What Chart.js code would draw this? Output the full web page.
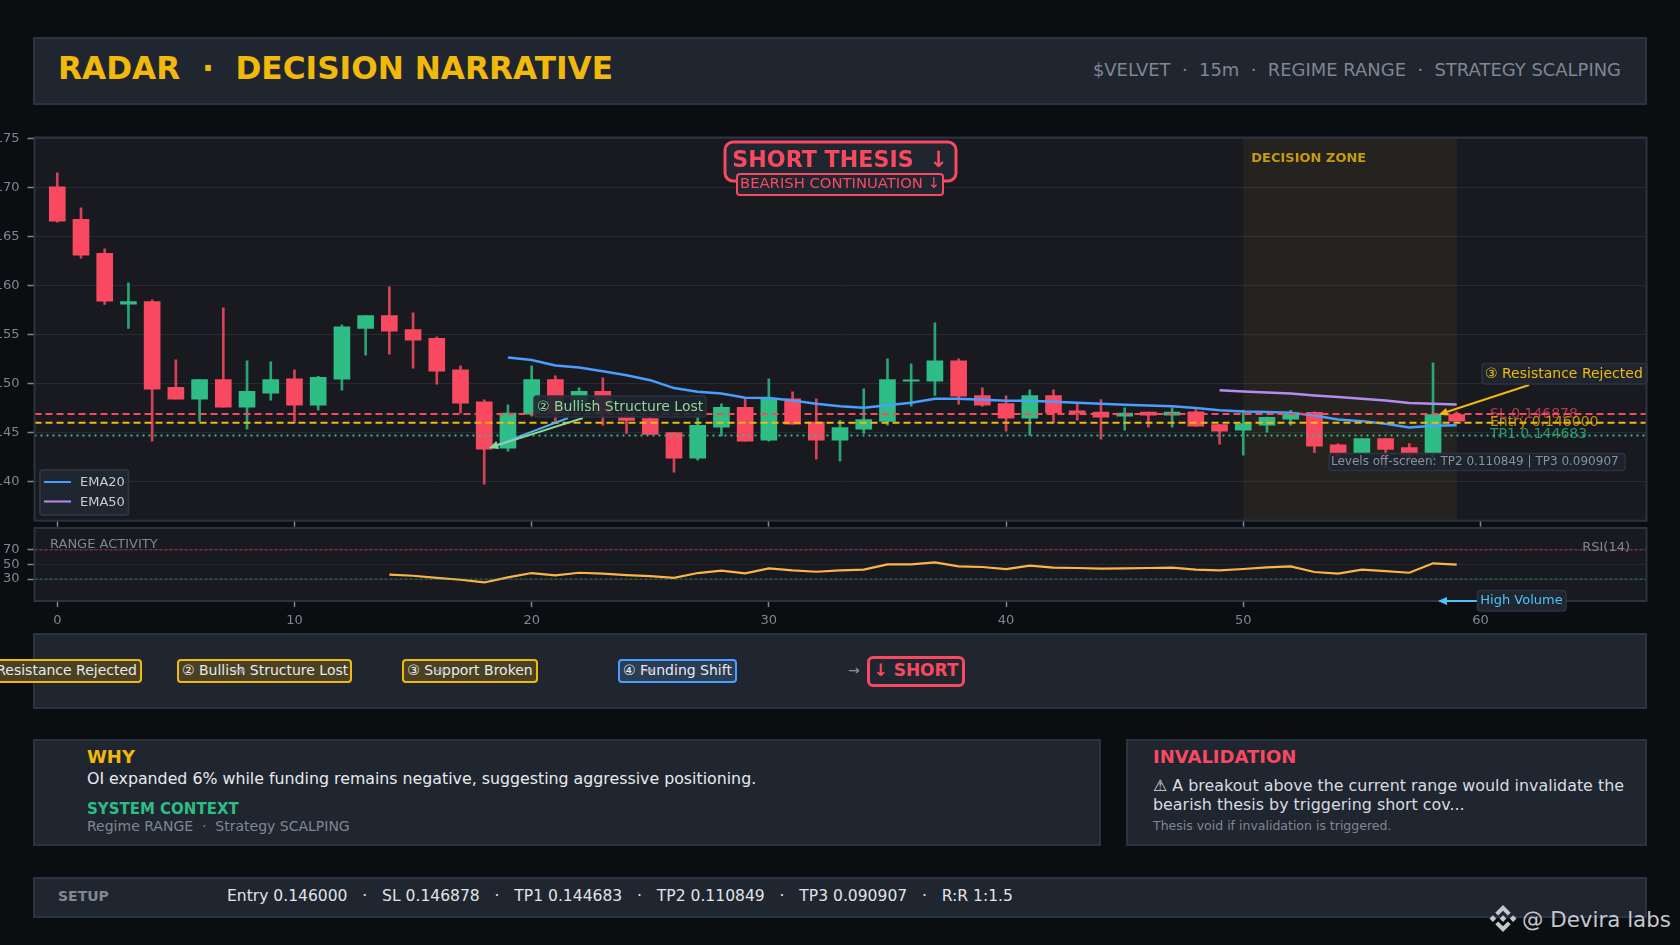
<!DOCTYPE html>
<html>
<head>
<meta charset="utf-8">
<title>Radar decision narrative</title>
<script src="https://cdn.jsdelivr.net/npm/chart.js@4/dist/chart.umd.js"></script>
<style>
  html, body { margin: 0; width: 1680px; height: 945px; overflow: hidden; background: #0b0e11; font-family: 'DejaVu Sans', sans-serif; }
  canvas { position: absolute; left: -60px; }
  .panel { position: absolute; box-sizing: border-box; background: #1f2630; border: 2px solid #2b3240; }
  .t { position: absolute; transform: translateY(-50%); white-space: nowrap; }
  .chip { position: absolute; box-sizing: border-box; top: 659px; height: 24px; line-height: 19px; border: 2px solid #f0b90b; border-radius: 4px; background: #4a4123; color: #e8eaed; font-size: 14px; padding: 0 3px; white-space: nowrap; text-align: center; }
  .chip.blue { border-color: #4a9eff; background: #2b3c55; }
  .arrow { position: absolute; color: #8a919c; font-size: 14px; transform: translateY(-50%); top: 670px; }
</style>
</head>
<body>
<div class="panel" style="left:33px;top:37px;width:1614px;height:68px"></div>
<div class="t" style="left:58px;top:68px;font-size:31.2px;font-weight:bold;color:#f0b90b;white-space:pre">RADAR  ·  DECISION NARRATIVE</div>
<div class="t" style="right:59px;top:68.5px;font-size:17.95px;color:#7f8793;white-space:pre">$VELVET  ·  15m  ·  REGIME RANGE  ·  STRATEGY SCALPING</div>

<canvas id="priceChart" width="1740" height="420" style="top:120px"></canvas>
<canvas id="rsiChart" width="1740" height="125" style="top:505px"></canvas>

<div class="panel" style="left:33px;top:633px;width:1614px;height:76px"></div>
<div class="chip" style="right:1538px">① Resistance Rejected</div>
<div class="chip" style="left:177px;width:175px">② Bullish Structure Lost</div>
<div class="chip" style="left:402px;width:136px">③ Support Broken</div>
<div class="chip blue" style="left:618px;width:119px">④ Funding Shift</div>
<div class="arrow" style="left:233px">→</div>
<div class="arrow" style="left:434px">→</div>
<div class="arrow" style="left:642px">→</div>
<div class="arrow" style="left:848px">→</div>
<div style="position:absolute;box-sizing:border-box;left:867px;top:656px;width:98px;height:31px;line-height:23px;border:3px solid #f84960;border-radius:6px;color:#f84960;font-size:17px;font-weight:bold;text-align:center">↓ SHORT</div>

<div class="panel" style="left:33px;top:739px;width:1068px;height:107px"></div>
<div class="t" style="left:87px;top:756px;font-size:18px;font-weight:bold;color:#f0b90b">WHY</div>
<div class="t" style="left:87px;top:778px;font-size:15.8px;color:#e8eaed">OI expanded 6% while funding remains negative, suggesting aggressive positioning.</div>
<div class="t" style="left:87px;top:809px;font-size:15px;font-weight:bold;color:#2ebd85">SYSTEM CONTEXT</div>
<div class="t" style="left:87px;top:826px;font-size:14px;color:#7f8793;white-space:pre">Regime RANGE  ·  Strategy SCALPING</div>

<div class="panel" style="left:1126px;top:739px;width:521px;height:107px"></div>
<div class="t" style="left:1153px;top:756px;font-size:18px;font-weight:bold;color:#f84960">INVALIDATION</div>
<div class="t" style="left:1153px;top:784.5px;font-size:15.9px;color:#d8dbe0">⚠ A breakout above the current range would invalidate the</div>
<div class="t" style="left:1153px;top:804px;font-size:15.9px;color:#d8dbe0">bearish thesis by triggering short cov...</div>
<div class="t" style="left:1153px;top:825px;font-size:12.5px;color:#7f8793">Thesis void if invalidation is triggered.</div>

<div class="panel" style="left:33px;top:877px;width:1614px;height:41px"></div>
<div class="t" style="left:58px;top:896px;font-size:14px;font-weight:bold;color:#7f8793">SETUP</div>
<div class="t" style="left:227px;top:896px;font-size:15.55px;color:#e0e3e8;white-space:pre">Entry 0.146000   ·   SL 0.146878   ·   TP1 0.144683   ·   TP2 0.110849   ·   TP3 0.090907   ·   R:R 1:1.5</div>

<svg style="position:absolute;left:1489px;top:905px" width="28" height="27" viewBox="0 0 28 28" fill="#c4c8ce">
  <path d="M14 0l8 8-3 3-5-5-5 5-3-3z M14 28l-8-8 3-3 5 5 5-5 3 3z M3.5 10.5l3.5 3.5-3.5 3.5-3.5-3.5z M24.5 10.5l3.5 3.5-3.5 3.5-3.5-3.5z M14 10.5l3.5 3.5-3.5 3.5-3.5-3.5z"/>
</svg>
<div class="t" style="left:1522px;top:919px;font-size:21.4px;color:#c4c8ce">@ Devira labs</div>

<script>
// candles
const candleOpen = [0.17007, 0.16674, 0.16327, 0.15810, 0.15837, 0.14960, 0.14841, 0.15041, 0.14759, 0.14902,
  0.15048, 0.14779, 0.15045, 0.15562, 0.15694, 0.15551, 0.15460, 0.15140, 0.14813, 0.14341,
  0.14688, 0.15041, 0.14769, 0.14919, 0.14657, 0.14643, 0.14500, 0.14239, 0.14555, 0.14756,
  0.14422, 0.14844, 0.14606, 0.14422, 0.14534, 0.14613, 0.15024, 0.15024, 0.15232, 0.14878,
  0.14796, 0.14647, 0.14878, 0.14722, 0.14708, 0.14667, 0.14708, 0.14677, 0.14711, 0.14582,
  0.14524, 0.14575, 0.14636, 0.14705, 0.14375, 0.14293, 0.14439, 0.14347, 0.14293, 0.14684];
const candleClose = [0.16657, 0.16310, 0.15840, 0.15837, 0.14943, 0.14841, 0.15041, 0.14759, 0.14919, 0.15041,
  0.14779, 0.15062, 0.15579, 0.15694, 0.15534, 0.15443, 0.15126, 0.14800, 0.14330, 0.14698,
  0.15041, 0.14701, 0.14919, 0.14701, 0.14623, 0.14480, 0.14239, 0.14572, 0.14756, 0.14412,
  0.14847, 0.14585, 0.14422, 0.14551, 0.14633, 0.15041, 0.15038, 0.15232, 0.14871, 0.14779,
  0.14647, 0.14878, 0.14701, 0.14701, 0.14657, 0.14698, 0.14677, 0.14708, 0.14565, 0.14514,
  0.14592, 0.14654, 0.14694, 0.14361, 0.14293, 0.14439, 0.14327, 0.14276, 0.14684, 0.14616];
const candleHigh = [0.17150, 0.16793, 0.16374, 0.16028, 0.15854, 0.15242, 0.15041, 0.15772, 0.15232, 0.15221,
  0.15140, 0.15072, 0.15599, 0.15694, 0.15987, 0.15721, 0.15477, 0.15181, 0.14834, 0.14783,
  0.15181, 0.15079, 0.14956, 0.15058, 0.14701, 0.14650, 0.14500, 0.14660, 0.14793, 0.14847,
  0.15048, 0.14915, 0.14844, 0.14623, 0.14946, 0.15252, 0.15201, 0.15619, 0.15252, 0.14956,
  0.14875, 0.14936, 0.14936, 0.14803, 0.14837, 0.14752, 0.14708, 0.14752, 0.14735, 0.14582,
  0.14728, 0.14657, 0.14725, 0.14711, 0.14385, 0.14439, 0.14439, 0.14388, 0.15211, 0.14711];
const candleLow = [0.16647, 0.16279, 0.15806, 0.15562, 0.14412, 0.14841, 0.14613, 0.14759, 0.14535, 0.14830,
  0.14596, 0.14728, 0.14932, 0.15289, 0.15300, 0.15157, 0.14994, 0.14701, 0.13973, 0.14310,
  0.14667, 0.14616, 0.14752, 0.14575, 0.14490, 0.14480, 0.14096, 0.14218, 0.14463, 0.14412,
  0.14412, 0.14585, 0.14228, 0.14208, 0.14490, 0.14575, 0.14769, 0.14878, 0.14790, 0.14769,
  0.14514, 0.14470, 0.14596, 0.14626, 0.14432, 0.14524, 0.14555, 0.14555, 0.14565, 0.14381,
  0.14269, 0.14504, 0.14575, 0.14293, 0.14259, 0.14293, 0.14140, 0.14208, 0.14225, 0.14616];

const ema20Start = 19;
const ema20 = [0.15266, 0.15239, 0.15184, 0.15164, 0.15126, 0.15085, 0.15034, 0.14953, 0.14915, 0.14898,
  0.14854, 0.14851, 0.14827, 0.14793, 0.14769, 0.14752, 0.14779, 0.14803, 0.14844, 0.14844,
  0.14834, 0.14824, 0.14824, 0.14813, 0.14803, 0.14793, 0.14783, 0.14776, 0.14769, 0.14749,
  0.14728, 0.14715, 0.14708, 0.14701, 0.14674, 0.14633, 0.14616, 0.14589, 0.14551, 0.14568, 0.14575];
const ema50Start = 49;
const ema50 = [0.14932, 0.14919, 0.14909, 0.14898, 0.14878, 0.14861, 0.14844, 0.14827, 0.14800, 0.14793, 0.14786];

const rsiStart = 14;
const rsi = [36.0, 34.6, 31.8, 29.1, 25.4, 32.3, 38.3, 35.1, 38.7, 37.4, 35.5, 34.1, 31.8, 38.3, 41.5, 37.8,
  44.7, 42.0, 40.1, 42.0, 42.9, 50.2, 50.2, 53.0, 47.5, 46.6, 43.8, 48.4, 45.6, 45.2, 44.3, 44.7,
  45.2, 45.6, 42.9, 42.0, 43.8, 46.1, 47.5, 39.7, 37.4, 42.9, 41.0, 38.7, 51.6, 49.8];

const levelSL = 0.146878;
const levelEntry = 0.146;
const levelTP1 = 0.144683;

const xTicks = [0, 10, 20, 30, 40, 50, 60];
const priceTicks = [0.14, 0.145, 0.15, 0.155, 0.16, 0.165, 0.17, 0.175];
const rsiTicks = [30, 50, 70];

const RED = '#f84960', GREEN = '#2ebd85', YELLOW = '#f0b90b', BLUE = '#4a9eff', PURPLE = '#b48cf0';
const GRAY = '#7f8793', PANEL = '#1f2630', EDGE = '#2b3240', FONT = "'DejaVu Sans', sans-serif";
const xMin = -0.96, xMax = 67;

const isUp = i => candleClose[i] >= candleOpen[i];
const series = (values, start) => values.map((y, i) => ({ x: i + start, y }));
const level = y => [{ x: xMin, y }, { x: xMax, y }];

function box(ctx, x, y, w, h, r, fill, stroke, lw) {
  ctx.beginPath();
  ctx.roundRect(x, y, w, h, r);
  if (fill) { ctx.fillStyle = fill; ctx.fill(); }
  if (stroke) { ctx.strokeStyle = stroke; ctx.lineWidth = lw; ctx.stroke(); }
}

function label(ctx, text, x, y, color, font, align) {
  ctx.font = font + ' ' + FONT;
  ctx.fillStyle = color;
  ctx.textAlign = align || 'left';
  ctx.textBaseline = 'middle';
  ctx.fillText(text, x, y);
}

function arrow(ctx, x0, y0, x1, y1, color, lw) {
  const a = Math.atan2(y1 - y0, x1 - x0);
  ctx.strokeStyle = color;
  ctx.fillStyle = color;
  ctx.lineWidth = lw;
  ctx.beginPath();
  ctx.moveTo(x0, y0);
  ctx.lineTo(x1 - 6 * Math.cos(a), y1 - 6 * Math.sin(a));
  ctx.stroke();
  ctx.beginPath();
  ctx.moveTo(x1, y1);
  ctx.lineTo(x1 - 10 * Math.cos(a - 0.4), y1 - 10 * Math.sin(a - 0.4));
  ctx.lineTo(x1 - 10 * Math.cos(a + 0.4), y1 - 10 * Math.sin(a + 0.4));
  ctx.fill();
}

// axes background, frame and the shaded zone sit under the marks
const backdrop = {
  id: 'backdrop',
  beforeDraw(chart) {
    const { ctx, chartArea: a } = chart;
    ctx.save();
    ctx.fillStyle = '#181a20';
    ctx.fillRect(a.left, a.top, a.width, a.height);
    ctx.restore();
  },
  afterDraw(chart) {
    const { ctx, chartArea: a } = chart;
    ctx.save();
    ctx.strokeStyle = EDGE;
    ctx.lineWidth = 2;
    ctx.strokeRect(a.left, a.top, a.width, a.height);
    ctx.restore();
  }
};

const pricePlugin = {
  id: 'priceNotes',
  beforeDatasetsDraw(chart) {
    const { ctx, chartArea: a, scales: { x, y } } = chart;
    ctx.save();
    ctx.fillStyle = 'rgba(240,185,11,0.06)';
    ctx.fillRect(x.getPixelForValue(50), a.top, x.getPixelForValue(59) - x.getPixelForValue(50), a.height);
    label(ctx, 'DECISION ZONE', x.getPixelForValue(50) + 8, 38.5, 'rgba(240,185,11,0.8)', 'bold 13px');
    const lx = 1550;
    label(ctx, 'SL 0.146878', lx, y.getPixelForValue(levelSL), 'rgba(248,73,96,0.7)', '14px');
    label(ctx, 'Entry 0.146000', lx, y.getPixelForValue(levelEntry), 'rgba(240,185,11,0.75)', '14px');
    label(ctx, 'TP1 0.144683', lx, y.getPixelForValue(levelTP1) - 1, 'rgba(46,189,133,0.75)', '14px');
    ctx.restore();
  },
  afterDatasetsDraw(chart) {
    const { ctx, scales: { x, y } } = chart;
    ctx.save();

    // thesis badges
    box(ctx, 785, 22, 231, 39, 8, PANEL, RED, 3);
    label(ctx, 'SHORT THESIS  ↓', 900, 41.5, RED, 'bold 22.2px', 'center');
    box(ctx, 797, 54, 206, 21, 3, PANEL, RED, 2);
    label(ctx, 'BEARISH CONTINUATION ↓', 900, 64, RED, '14.8px', 'center');

    // arrows point at candles through the scales
    const tipX = x.getPixelForValue(18.2), tipY = y.getPixelForValue(0.14342);
    arrow(ctx, x.getPixelForValue(21.53), y.getPixelForValue(0.14648), tipX, tipY, '#4fb4f0', 2);
    arrow(ctx, x.getPixelForValue(22.16), y.getPixelForValue(0.14648), tipX, tipY, '#8fd694', 2);
    box(ctx, 594, 276, 172, 21, 3, 'rgba(31,38,48,0.9)', EDGE, 1.5);
    label(ctx, '② Bullish Structure Lost', 597, 287, '#8fd694', '14px');

    arrow(ctx, x.getPixelForValue(62.05), y.getPixelForValue(0.14985), x.getPixelForValue(58.23), y.getPixelForValue(0.14682), YELLOW, 2);
    box(ctx, 1542, 243.5, 165, 20.5, 3, 'rgba(31,38,48,0.95)', EDGE, 1.5);
    label(ctx, '③ Resistance Rejected', 1545, 254, YELLOW, '14px');

    box(ctx, 1389, 333.5, 296, 17, 3, 'rgba(31,38,48,0.85)', EDGE, 1.5);
    label(ctx, 'Levels off-screen: TP2 0.110849 | TP3 0.090907', 1391, 342, '#8a919c', '12px');

    // legend
    box(ctx, 100, 350, 88.5, 45, 3, PANEL, EDGE, 2);
    ctx.lineWidth = 2;
    ctx.strokeStyle = BLUE;
    ctx.beginPath(); ctx.moveTo(104, 362); ctx.lineTo(131, 362); ctx.stroke();
    ctx.strokeStyle = PURPLE;
    ctx.beginPath(); ctx.moveTo(104, 381.5); ctx.lineTo(131, 381.5); ctx.stroke();
    label(ctx, 'EMA20', 140, 363, '#c8ccd4', '13px');
    label(ctx, 'EMA50', 140, 383, '#c8ccd4', '13px');
    ctx.restore();
  }
};

const rsiPlugin = {
  id: 'rsiNotes',
  afterDatasetsDraw(chart) {
    const { ctx } = chart;
    ctx.save();
    label(ctx, 'RANGE ACTIVITY', 110, 39.5, GRAY, '13px');
    label(ctx, 'RSI(14)', 1690, 43, GRAY, '13px', 'right');
    ctx.restore();
  },
  afterDraw(chart) {
    const { ctx, scales: { x, y } } = chart;
    ctx.save();
    arrow(ctx, x.getPixelForValue(59.87), y.getPixelForValue(0), x.getPixelForValue(58.2), y.getPixelForValue(0), '#4fc3f7', 2);
    box(ctx, 1537.5, 85.5, 88.5, 20.5, 3, PANEL, EDGE, 1.5);
    label(ctx, 'High Volume', 1581.5, 96, '#4fc3f7', '13px', 'center');
    ctx.restore();
  }
};

const candleIndex = candleOpen.map((_, i) => i);

new Chart(document.getElementById('priceChart'), {
  type: 'bar',
  plugins: [backdrop, pricePlugin],
  data: {
    datasets: [
      { type: 'line', data: level(levelSL), borderColor: RED, borderWidth: 2, borderDash: [7, 4], pointRadius: 0, order: 1 },
      { type: 'line', data: level(levelEntry), borderColor: YELLOW, borderWidth: 2, borderDash: [7, 4], pointRadius: 0, order: 1 },
      { type: 'line', data: level(levelTP1), borderColor: GREEN, borderWidth: 2, borderDash: [2, 4], pointRadius: 0, order: 1 },
      { type: 'line', label: 'EMA20', data: series(ema20, ema20Start), borderColor: BLUE, borderWidth: 2.5, pointRadius: 0, order: 2 },
      { type: 'line', label: 'EMA50', data: series(ema50, ema50Start), borderColor: PURPLE, borderWidth: 2.5, pointRadius: 0, order: 2 },
      {
        label: 'body', order: 3, grouped: false, barThickness: 16, borderWidth: 0,
        data: candleIndex.map(i => ({ x: i, y: [candleOpen[i], candleClose[i]] })),
        backgroundColor: candleIndex.map(i => (isUp(i) ? GREEN : RED))
      },
      {
        label: 'wick', order: 4, grouped: false, barThickness: 2, borderWidth: 0,
        data: candleIndex.map(i => ({ x: i, y: [candleLow[i], candleHigh[i]] })),
        backgroundColor: candleIndex.map(i => (isUp(i) ? 'rgba(46,189,133,0.85)' : 'rgba(248,73,96,0.85)'))
      }
    ]
  },
  options: {
    responsive: false,
    animation: false,
    events: [],
    layout: { padding: { top: 17.5, right: 33.5, bottom: 0, left: 0 } },
    plugins: { legend: { display: false }, tooltip: { enabled: false } },
    scales: {
      x: {
        type: 'linear', min: xMin, max: xMax, offset: false,
        afterBuildTicks: s => { s.ticks = xTicks.map(value => ({ value })); },
        afterFit: s => { s.height = 19.3; },
        ticks: { display: false },
        grid: { offset: false, drawOnChartArea: false, tickLength: 6, tickColor: GRAY, tickWidth: 1.5 },
        border: { display: false }
      },
      y: {
        min: 0.136, max: 0.175102,
        afterBuildTicks: s => { s.ticks = priceTicks.map(value => ({ value })); },
        afterFit: s => { s.width = 94.5; },
        ticks: { color: GRAY, font: { family: FONT, size: 13 }, padding: 8, callback: v => v.toFixed(3) },
        grid: { color: '#262a33', tickLength: 7, tickColor: GRAY, tickWidth: 1.5 },
        border: { display: false }
      }
    }
  }
});

new Chart(document.getElementById('rsiChart'), {
  type: 'line',
  plugins: [backdrop, rsiPlugin],
  data: {
    datasets: [
      { data: level(70), borderColor: 'rgba(248,73,96,0.6)', borderWidth: 1, borderDash: [3, 2], pointRadius: 0 },
      { data: level(30), borderColor: 'rgba(46,189,133,0.6)', borderWidth: 1, borderDash: [3, 2], pointRadius: 0 },
      { label: 'RSI(14)', data: series(rsi, rsiStart), borderColor: '#ffb347', borderWidth: 2.2, pointRadius: 0 }
    ]
  },
  options: {
    responsive: false,
    animation: false,
    events: [],
    layout: { padding: { top: 23, right: 33.5, bottom: 0, left: 0 } },
    plugins: { legend: { display: false }, tooltip: { enabled: false } },
    scales: {
      x: {
        type: 'linear', min: xMin, max: xMax,
        afterBuildTicks: s => { s.ticks = xTicks.map(value => ({ value })); },
        afterFit: s => { s.height = 29; },
        ticks: { color: GRAY, font: { family: FONT, size: 13 }, padding: 6, maxRotation: 0 },
        grid: { drawOnChartArea: false, tickLength: 6, tickColor: GRAY, tickWidth: 1.5 },
        border: { display: false }
      },
      y: {
        min: 0, max: 100,
        afterBuildTicks: s => { s.ticks = rsiTicks.map(value => ({ value })); },
        afterFit: s => { s.width = 94.5; },
        ticks: { color: GRAY, font: { family: FONT, size: 13 }, padding: 8 },
        grid: { color: '#23262e', tickLength: 7, tickColor: GRAY, tickWidth: 1.5 },
        border: { display: false }
      }
    }
  }
});
</script>
</body>
</html>
